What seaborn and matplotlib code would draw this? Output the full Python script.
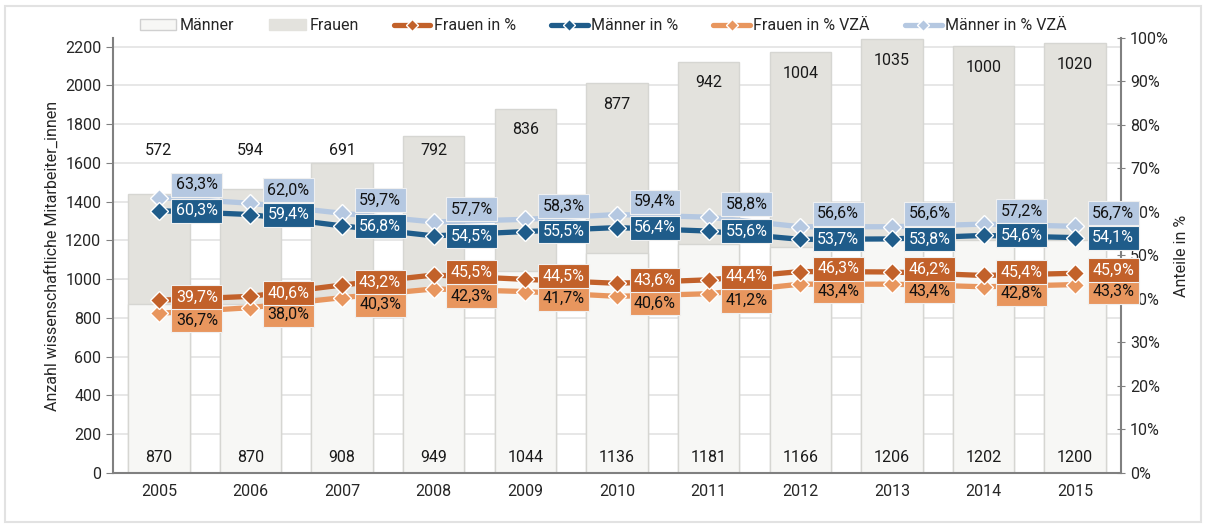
import numpy as np
import pandas as pd
import matplotlib
matplotlib.use("Agg")
import matplotlib.pyplot as plt
import seaborn as sns
from matplotlib.lines import Line2D
from matplotlib.patches import Patch, Rectangle

# Daten
jahre = ["2005", "2006", "2007", "2008", "2009", "2010", "2011", "2012", "2013", "2014", "2015"]
maenner = [870, 870, 908, 949, 1044, 1136, 1181, 1166, 1206, 1202, 1200]
frauen = [572, 594, 691, 792, 836, 877, 942, 1004, 1035, 1000, 1020]
frauen_pct = [39.7, 40.6, 43.2, 45.5, 44.5, 43.6, 44.4, 46.3, 46.2, 45.4, 45.9]
maenner_pct = [60.3, 59.4, 56.8, 54.5, 55.5, 56.4, 55.6, 53.7, 53.8, 54.6, 54.1]
frauen_vza = [36.7, 38.0, 40.3, 42.3, 41.7, 40.6, 41.2, 43.4, 43.4, 42.8, 43.3]
maenner_vza = [63.3, 62.0, 59.7, 57.7, 58.3, 59.4, 58.8, 56.6, 56.6, 57.2, 56.7]

sns.set_style("white")
plt.rcParams['font.family'] = ['Roboto', 'DejaVu Sans']
fs = 11.5

c_m_bar = "#F7F7F5"
c_f_bar = "#E3E2DD"
c_f_pct = "#C2612A"
c_m_pct = "#1F5C8A"
c_f_vza = "#E8965E"
c_m_vza = "#B5C8E1"

df = pd.DataFrame({"jahr": jahre, "maenner": maenner, "frauen": frauen})
df["gesamt"] = df["maenner"] + df["frauen"]
x = np.arange(len(jahre))

fig = plt.figure(figsize=(12.06, 5.28), dpi=100)
fig.patches.append(Rectangle((0.004, 0.012), 0.992, 0.976, transform=fig.transFigure,
                             fill=False, edgecolor="#E2E2E2", linewidth=1.5))
ax = fig.add_axes([0.0937, 0.1042, 0.8358, 0.824])

# gestapelte Balken
sns.barplot(data=df, x="jahr", y="gesamt", color=c_f_bar, width=0.67, ax=ax,
            edgecolor="#D6D6D2", linewidth=1, saturation=1)
sns.barplot(data=df, x="jahr", y="maenner", color=c_m_bar, width=0.67, ax=ax,
            edgecolor="#D6D6D2", linewidth=1, saturation=1)

ax.set_xlim(-0.5, len(jahre) - 0.5)
ax.set_ylim(0, 2245)
ax.set_yticks(np.arange(0, 2201, 200))
ax.yaxis.grid(True, color="#E3E3E3", linewidth=1.2)
ax.set_axisbelow(True)
ax.set_xlabel("")
ax.set_ylabel("Anzahl wissenschaftliche Mitarbeiter_innen", fontsize=fs)
ax.set_xticks(x)
ax.set_xticklabels(jahre)
ax.set_xticks(np.arange(-0.5, len(jahre), 1), minor=True)
ax.tick_params(axis="x", which="major", length=0, labelsize=fs, pad=8)
ax.tick_params(axis="x", which="minor", length=5, color="#808080")
ax.tick_params(axis="y", length=5, color="#808080", labelsize=fs, direction="out")
for s in ["left", "bottom"]:
    ax.spines[s].set_color("#808080")
    ax.spines[s].set_linewidth(1.5)
ax.spines["top"].set_visible(False)
ax.spines["right"].set_visible(False)

# Balkenbeschriftung
for i in range(len(jahre)):
    ax.text(x[i], 80, str(maenner[i]), ha="center", va="center", fontsize=fs, color="#1A1A1A")
    ypos = max(df["gesamt"][i] - 110, 1665)
    ax.text(x[i], ypos, str(frauen[i]), ha="center", va="center", fontsize=fs, color="#1A1A1A")

# Linien auf zweiter Achse
ax2 = ax.twinx()
reihen = [
    ("Männer in % VZÄ", maenner_vza, c_m_vza, "#111111", 13),
    ("Frauen in % VZÄ", frauen_vza, c_f_vza, "#111111", -7),
    ("Männer in %", maenner_pct, c_m_pct, "white", 0),
    ("Frauen in %", frauen_pct, c_f_pct, "white", 3),
]
for name, werte, farbe, tfarbe, dy in reihen:
    sns.lineplot(x=x, y=werte, color=farbe, linewidth=3.8, marker="D", markersize=9,
                 markeredgecolor="white", markeredgewidth=1, ax=ax2)
for name, werte, farbe, tfarbe, dy in reihen:
    for i, v in enumerate(werte):
        ax2.annotate(f"{v:.1f}".replace(".", ",") + "%", (x[i], v), xytext=(38, dy),
                     textcoords="offset pixels", ha="center", va="center", fontsize=fs,
                     color=tfarbe, zorder=5,
                     bbox=dict(boxstyle="square,pad=0.28", facecolor=farbe,
                               edgecolor="#F0F0F0", linewidth=0.8))

ax2.set_ylim(0, 100)
ax2.set_yticks(np.arange(0, 101, 10))
ax2.set_yticklabels([f"{t}%" for t in range(0, 101, 10)])
ax2.set_ylabel("Anteile in %", fontsize=fs)
ax2.tick_params(axis="y", length=6, color="#808080", labelsize=fs, direction="inout")
ax2.spines["right"].set_color("#808080")
ax2.spines["right"].set_linewidth(1.5)
for s in ["top", "left", "bottom"]:
    ax2.spines[s].set_visible(False)

# Legende
handles = [
    Patch(facecolor=c_m_bar, edgecolor="#D0D0D0"),
    Patch(facecolor=c_f_bar, edgecolor=c_f_bar),
    Line2D([], [], color=c_f_pct, lw=3.8, marker="D", markersize=6, markeredgecolor="white"),
    Line2D([], [], color=c_m_pct, lw=3.8, marker="D", markersize=6, markeredgecolor="white"),
    Line2D([], [], color=c_f_vza, lw=3.8, marker="D", markersize=6, markeredgecolor="white"),
    Line2D([], [], color=c_m_vza, lw=3.8, marker="D", markersize=6, markeredgecolor="white"),
]
labels = ["Männer", "Frauen", "Frauen in %", "Männer in %", "Frauen in % VZÄ", "Männer in % VZÄ"]
fig.legend(handles, labels, loc="center", bbox_to_anchor=(0.5, 0.951), ncol=6, frameon=False,
           fontsize=fs, handlelength=2.3, handletextpad=0.2, columnspacing=2.2)

fig.savefig("out.png", dpi=100)
